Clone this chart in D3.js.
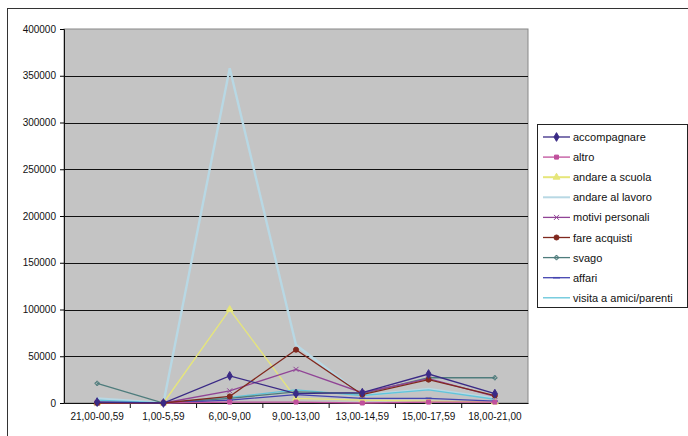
<!DOCTYPE html>
<html><head><meta charset="utf-8">
<script src="https://cdn.jsdelivr.net/npm/d3@7"></script>
<style>body{margin:0;background:#fff}svg{display:block}text{font-family:"Liberation Sans",Arial,sans-serif}</style>
</head><body>
<script>
const categories = ["21,00-00,59","1,00-5,59","6,00-9,00","9,00-13,00","13,00-14,59","15,00-17,59","18,00-21,00"];
const seriesNames = ["accompagnare","altro","andare a scuola","andare al lavoro","motivi personali","fare acquisti","svago","affari","visita a amici/parenti"];
const accompagnare = [1000, 0, 29000, 10000, 11000, 31000, 10000];
const altro = [500, 0, 1000, 1000, 0, 1000, 1000];
const andareScuola = [0, 0, 100000, 5000, 3000, 2000, 1000];
const andareLavoro = [5000, 0, 358000, 62000, 8000, 15000, 5000];
const motiviPersonali = [0, 0, 13000, 36000, 11000, 26000, 7000];
const fareAcquisti = [0, 0, 7000, 57000, 9000, 25000, 8000];
const svago = [21000, 0, 5000, 12000, 10000, 27000, 27000];
const affari = [1000, 0, 3000, 9000, 5000, 5000, 2000];
const visita = [3000, 0, 6000, 14000, 8000, 14000, 4000];
const yTicks = [0, 50000, 100000, 150000, 200000, 250000, 300000, 350000, 400000];

(function () {
const seriesValues = [accompagnare, altro, andareScuola, andareLavoro, motiviPersonali, fareAcquisti, svago, affari, visita];
const colors = ["#3a2a86","#c0509c","#e6e67a","#b8d8e4","#904496","#80281e","#4e7c7c","#4444b0","#62c4da"];
const symbols = [d3.symbolDiamond, d3.symbolSquare, d3.symbolTriangle, null, d3.symbolX, d3.symbolCircle, d3.symbolCross, null, null];
const symSizes = [22, 16, 20, 0, 18, 20, 10, 0, 0];

const W = 688, H = 436;
const svg = d3.select("body").append("svg").attr("width", W).attr("height", H);

svg.append("rect").attr("x", 7.5).attr("y", 8.5).attr("width", 690).attr("height", 440)
  .attr("fill", "#fff").attr("stroke", "#333").attr("stroke-width", 1);

const pL = 64, pR = 528, pT = 29, pB = 403;
const x = d3.scaleBand().domain(categories).range([pL, pR]);
const y = d3.scaleLinear().domain([0, 400000]).range([pB, pT]);

svg.append("rect").attr("x", pL).attr("y", pT).attr("width", pR - pL).attr("height", pB - pT)
  .attr("fill", "#c4c4c4").attr("stroke", "#888").attr("stroke-width", 1);

svg.append("g").selectAll("line").data(yTicks.filter(d => d > 0 && d < 400000)).join("line")
  .attr("x1", pL).attr("x2", pR).attr("y1", d => Math.round(y(d)) + 0.5).attr("y2", d => Math.round(y(d)) + 0.5)
  .attr("stroke", "#111").attr("stroke-width", 1.2);

const yAxis = svg.append("g").attr("transform", `translate(${pL},0)`)
  .call(d3.axisLeft(y).tickValues(yTicks).tickSize(4).tickPadding(4).tickFormat(d3.format("d")));
yAxis.select(".domain").attr("stroke", "#111");
yAxis.selectAll("text").attr("font-size", 10).attr("fill", "#111");

const xAxis = svg.append("g").attr("transform", `translate(0,${pB})`)
  .call(d3.axisBottom(x).tickSize(0).tickPadding(10));
xAxis.select(".domain").attr("stroke", "#111").attr("stroke-width", 1.2);
xAxis.selectAll("text").attr("font-size", 10).attr("fill", "#111");
svg.append("g").selectAll("line").data(categories.slice(1)).join("line")
  .attr("x1", d => x(d)).attr("x2", d => x(d)).attr("y1", pB).attr("y2", pB + 5).attr("stroke", "#111");

const line = d3.line().x((d, i) => x(categories[i]) + x.bandwidth() / 2).y(d => y(d));
const order = [3, 2, 8, 6, 7, 1, 4, 5, 0];
order.forEach(si => {
  const g = svg.append("g");
  g.append("path").datum(seriesValues[si]).attr("d", line).attr("fill", "none")
    .attr("stroke", colors[si]).attr("stroke-width", si === 3 ? 2.4 : 1.3);
  if (symbols[si]) {
    g.selectAll("path.m").data(seriesValues[si]).join("path").attr("class", "m")
      .attr("transform", (d, i) => `translate(${x(categories[i]) + x.bandwidth() / 2},${y(d)})`)
      .attr("d", d3.symbol().type(symbols[si]).size(symSizes[si]))
      .attr("fill", si === 4 || si === 6 ? "none" : colors[si])
      .attr("stroke", colors[si]).attr("stroke-width", 1);
  } else if (si === 7) {
    g.selectAll("line.m").data(seriesValues[si]).join("line").attr("class", "m")
      .attr("x1", (d, i) => x(categories[i]) + x.bandwidth() / 2 - 3)
      .attr("x2", (d, i) => x(categories[i]) + x.bandwidth() / 2 + 3)
      .attr("y1", d => y(d)).attr("y2", d => y(d)).attr("stroke", colors[si]).attr("stroke-width", 1.5);
  }
});

const lg = svg.append("g");
lg.append("rect").attr("x", 537.5).attr("y", 124.5).attr("width", 150).attr("height", 183)
  .attr("fill", "#fff").attr("stroke", "#222");
seriesNames.forEach((name, i) => {
  const cy = 137 + i * 20.1;
  const it = lg.append("g");
  it.append("line").attr("x1", 543).attr("x2", 570).attr("y1", cy).attr("y2", cy)
    .attr("stroke", colors[i]).attr("stroke-width", i === 3 || i === 2 ? 2 : 1.3);
  if (symbols[i]) {
    it.append("path").attr("transform", `translate(556.5,${cy})`)
      .attr("d", d3.symbol().type(symbols[i]).size(symSizes[i]))
      .attr("fill", i === 4 || i === 6 ? "none" : colors[i]).attr("stroke", colors[i]);
  } else if (i === 7) {
    it.append("line").attr("x1", 553).attr("x2", 560).attr("y1", cy).attr("y2", cy).attr("stroke", colors[i]).attr("stroke-width", 1.5);
  }
  it.append("text").attr("x", 573).attr("y", cy + 4).attr("font-size", 11).attr("fill", "#111").text(name);
});
})();
</script>
</body></html>
